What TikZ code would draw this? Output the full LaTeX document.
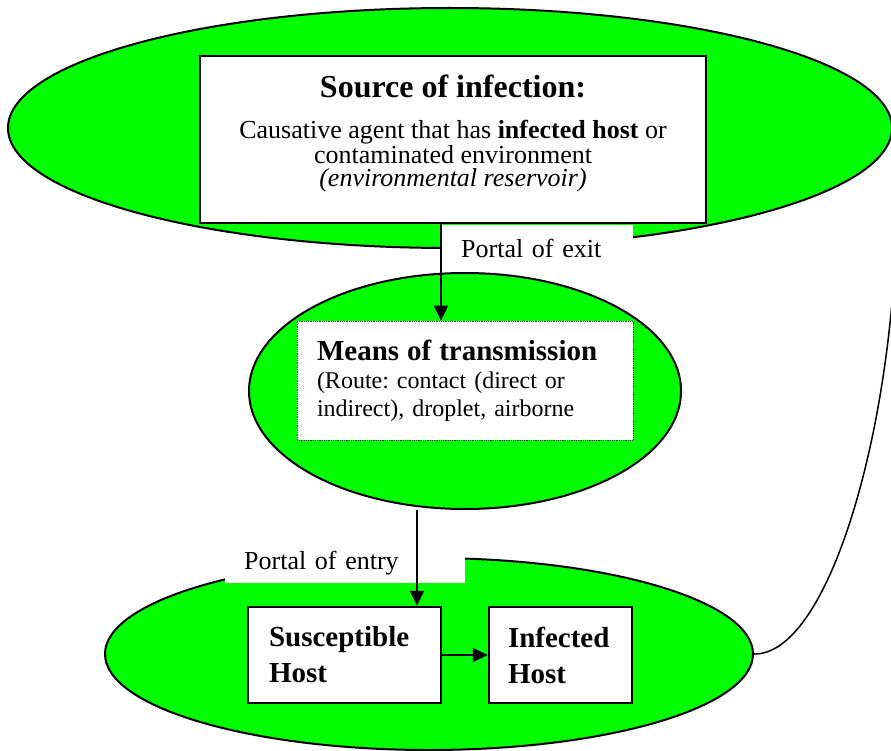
\documentclass[tikz,border=0pt]{standalone}
\usepackage{fontspec}
\setmainfont{Liberation Serif}
\frenchspacing
\usetikzlibrary{arrows.meta,shapes.geometric}
\definecolor{limex}{HTML}{00FF00}
\tikzset{
  ar/.style={-{Triangle[length=15pt,width=14pt]},line width=2pt},
  ring/.style={ellipse,draw,line width=2pt,fill=limex,inner sep=0pt},
  box/.style={draw,line width=2.5pt,fill=white,align=left,inner ysep=0pt,minimum height=96pt,font=\fontsize{29}{36}\selectfont\bfseries},
  tag/.style={fill=white,align=left,font=\fontsize{26}{30}\selectfont,text height=18pt,text depth=6pt}
}

\begin{document}
\begin{tikzpicture}[x=1pt,y=-1pt]
\fill[white] (0,0) rectangle (891,751);
\useasboundingbox (0,0) rectangle (891,751);
\node[ring,minimum width=884pt,minimum height=240pt] (srcring) at (450,128) {};
\node[draw,line width=2.5pt,fill=white,minimum width=506pt,minimum height=167pt,inner sep=0pt] (srcbox) at (453,139.5) {};
\node[anchor=north,align=center,inner sep=0pt,font=\fontsize{26}{23}\selectfont] (srctext) at (453,75)
  {{\fontsize{32}{32}\selectfont\bfseries Source of infection:}\\[18pt]
   Causative agent that has \textbf{infected host} or\\
   contaminated environment\\
   \textit{(environmental reservoir)}};
\node[tag,anchor=north west,text width=152pt,inner xsep=20pt,inner ysep=14.5pt] (exitlbl) at (441,224.5) {Portal of exit};
\node[ring,minimum width=432pt,minimum height=236pt] (meansring) at (465,391) {};
\node[draw=black!75,densely dotted,line width=0.8pt,fill=white,align=left,text width=296pt,inner xsep=20pt,minimum height=119pt,font=\fontsize{24}{28}\selectfont] (meansbox) at (465,380.5)
  {{\fontsize{29}{28}\selectfont\bfseries Means of transmission}\\
   (Route: contact (direct or\\
   indirect), droplet, airborne};
\node[ring,minimum width=648pt,minimum height=192pt] (hostring) at (429,654) {};
\node[tag,anchor=south west,text width=202pt,inner xsep=19pt,inner ysep=7pt] (entrylbl) at (225,583) {Portal of entry};
\node[box,text width=151pt,inner xsep=21pt] (suscbox) at (344.5,655) {Susceptible\\Host};
\node[box,text width=105pt,inner xsep=19pt] (infbox) at (560.5,655) {Infected\\Host};
\coordinate (entrypt) at (417,0);
\coordinate (loopend) at (896,240);
\draw[ar] (srcbox.south -| exitlbl.west) -- (meansbox.north -| exitlbl.west);
\draw[ar] (meansring.south -| entrypt) -- (suscbox.north -| entrypt);
\draw[ar] (suscbox.east) -- (infbox.west);
\draw[line width=1.5pt] (hostring.east) .. controls (825,655) and (888,450) .. (loopend);
\end{tikzpicture}
\end{document}
